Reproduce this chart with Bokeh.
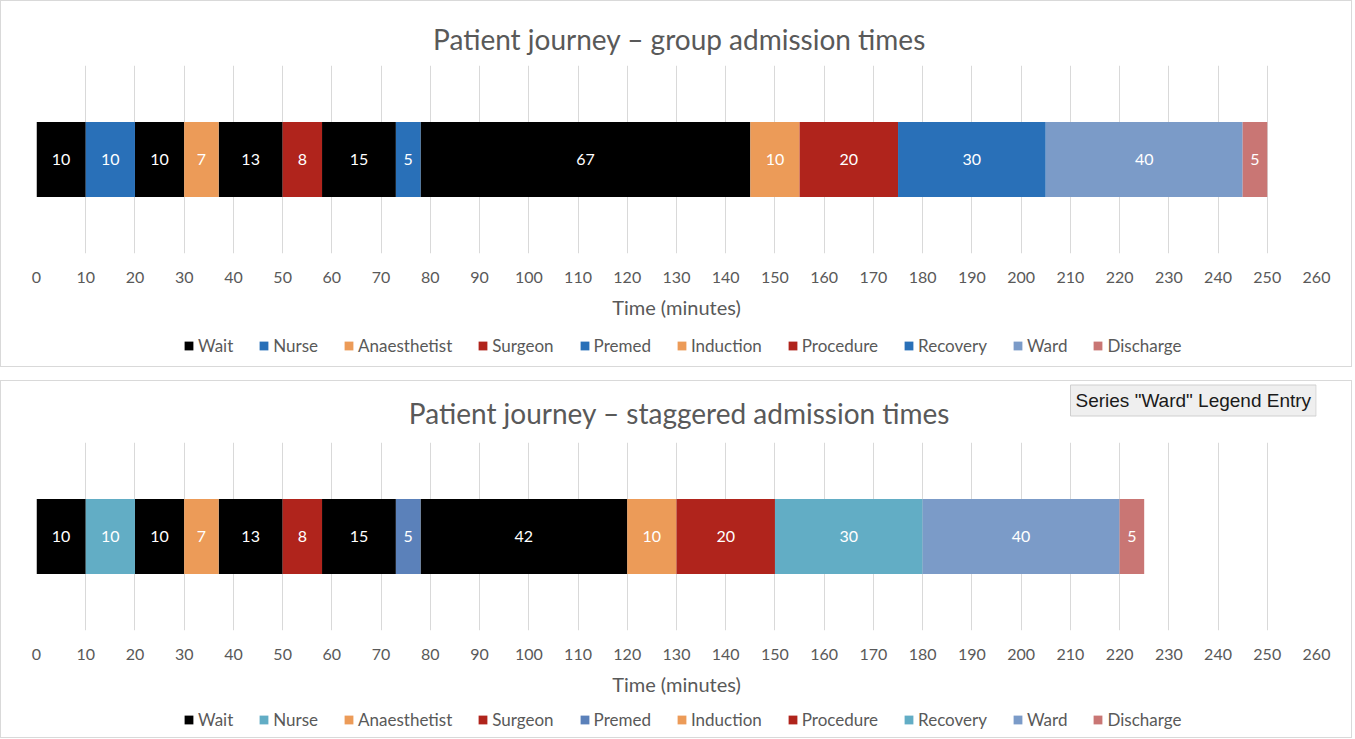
from bokeh.plotting import figure
from bokeh.models import Range1d, Legend, LegendItem, Label, ColumnDataSource, FixedTicker, LabelSet
from bokeh.layouts import column
from bokeh.embed import file_html
from bokeh.resources import INLINE
from bokeh.core.properties import value

series_names = ["Wait", "Nurse", "Anaesthetist", "Surgeon", "Premed",
                "Induction", "Procedure", "Recovery", "Ward", "Discharge"]
colors_group = ["#000000", "#2970B8", "#EC9B58", "#B0241C", "#2970B8",
                "#EC9B58", "#B0241C", "#2970B8", "#7B9BC8", "#C97674"]
colors_staggered = ["#000000", "#62ADC5", "#EC9B58", "#B0241C", "#5B81BA",
                    "#EC9B58", "#B0241C", "#62ADC5", "#7B9BC8", "#C97674"]

segment_series = ["Wait", "Nurse", "Wait", "Anaesthetist", "Wait", "Surgeon", "Wait",
                  "Premed", "Wait", "Induction", "Procedure", "Recovery", "Ward", "Discharge"]
group_minutes = [10, 10, 10, 7, 13, 8, 15, 5, 67, 10, 20, 30, 40, 5]
staggered_minutes = [10, 10, 10, 7, 13, 8, 15, 5, 42, 10, 20, 30, 40, 5]

x_ticks = list(range(0, 261, 10))
titles = ["Patient journey \u2013 group admission times",
          "Patient journey \u2013 staggered admission times"]
x_label = "Time (minutes)"
tooltip_text = "Series \"Ward\" Legend Entry"

FONT = "Lato"
GREY = "#595959"
W = 1350


def blank_fig(height):
    f = figure(width=W, height=height, x_range=Range1d(0, 260), y_range=Range1d(5, 6),
               output_backend="svg", toolbar_location=None, title=None,
               x_axis_location=None, y_axis_location=None,
               min_border_left=0, min_border_right=0, min_border_top=0, min_border_bottom=0)
    f.grid.visible = False
    f.outline_line_color = None
    return f


def make_panel(title, minutes, colors, hdr_h, title_y, leg_h, tooltip=False):
    # header with the chart title (frames are aligned with the plot below)
    hdr = blank_fig(hdr_h)
    hdr.add_layout(Label(x=643, y=title_y, x_units="screen", y_units="screen",
                         text=title, text_font=FONT, text_font_size="28px",
                         text_color=GREY, text_align="center", text_baseline="middle"))
    if tooltip:
        hdr.add_layout(Label(x=1034, y=hdr_h - 19, x_units="screen", y_units="screen",
                             text=tooltip_text, text_font="Liberation Sans",
                             text_font_size="19px", text_color="#1A1A1A",
                             text_baseline="middle", background_fill_color="#EFEFEF",
                             border_line_color="#CFCFCF", padding=5))

    p = figure(width=W, height=261, x_range=Range1d(0, 260), y_range=Range1d(0, 1),
               output_backend="svg", toolbar_location=None, title=None,
               min_border_left=35, min_border_right=35, min_border_top=0,
               min_border_bottom=73)

    lefts, rights = [], []
    acc = 0
    for m in minutes:
        lefts.append(acc)
        acc += m
        rights.append(acc)

    leg = blank_fig(leg_h)
    items = []
    for name, col in zip(series_names, colors):
        idx = [i for i, s in enumerate(segment_series) if s == name]
        src = ColumnDataSource(dict(y=[0.5] * len(idx),
                                    left=[lefts[i] for i in idx],
                                    right=[rights[i] for i in idx]))
        p.hbar(y="y", left="left", right="right", height=0.4, source=src,
               fill_color=col, line_color=None)
        # same series in the legend strip (outside its visible range)
        r = leg.hbar(y="y", left="left", right="right", height=0.4, source=src,
                     fill_color=col, line_color=None)
        items.append(LegendItem(label=name, renderers=[r]))

    lab_src = ColumnDataSource(dict(x=[(l + r) / 2 for l, r in zip(lefts, rights)],
                                    y=[0.5] * len(minutes),
                                    t=[str(m) for m in minutes]))
    p.add_layout(LabelSet(x="x", y="y", text="t", source=lab_src,
                          text_align="center", text_baseline="middle",
                          text_color="white", text_font=value(FONT),
                          text_font_size="16px"))

    p.yaxis.visible = False
    p.ygrid.visible = False
    p.xaxis.ticker = FixedTicker(ticks=x_ticks)
    p.xaxis.axis_line_color = None
    p.xaxis.major_tick_line_color = None
    p.xaxis.minor_tick_line_color = None
    p.xaxis.major_tick_out = 0
    p.xaxis.major_label_standoff = 18
    p.xaxis.major_label_text_font = FONT
    p.xaxis.major_label_text_font_size = "16px"
    p.xaxis.major_label_text_color = GREY
    p.xaxis.axis_label = x_label
    p.xaxis.axis_label_text_font = FONT
    p.xaxis.axis_label_text_font_size = "20px"
    p.xaxis.axis_label_text_font_style = "normal"
    p.xaxis.axis_label_text_color = GREY
    p.xaxis.axis_label_standoff = 9
    p.xgrid.grid_line_color = "#D9D9D9"
    p.outline_line_color = None

    legend = Legend(items=items, orientation="horizontal",
                    location=(147, (leg_h - 20) / 2),
                    border_line_color=None, background_fill_alpha=0,
                    label_text_font=FONT, label_text_font_size="17px",
                    label_text_color=GREY, glyph_width=11, glyph_height=11,
                    label_standoff=4, spacing=25, padding=0, margin=0)
    leg.add_layout(legend)

    return column(hdr, p, leg, spacing=0, styles={"border": "1px solid #D9D9D9"})


panel1 = make_panel(titles[0], group_minutes, colors_group, 64, 27, 40)
panel2 = make_panel(titles[1], staggered_minutes, colors_staggered, 61, 30, 34, tooltip=True)

layout = column(panel1, panel2, spacing=13)
open("out.html", "w").write(file_html(layout, INLINE))
